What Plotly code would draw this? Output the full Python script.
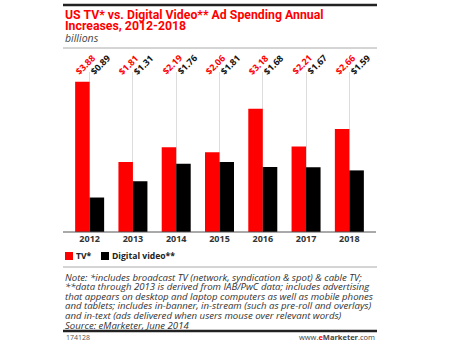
import plotly.graph_objects as go

# Annual increases in US ad spending, billions
years = ["2012", "2013", "2014", "2015", "2016", "2017", "2018"]
tv = [3.88, 1.81, 2.19, 2.06, 3.18, 2.21, 2.66]
digital = [0.89, 1.31, 1.76, 1.81, 1.68, 1.67, 1.59]

RED = "#ff0000"
BLACK = "#000000"
W, H = 450, 345


def px(x):
    return x / W


def py(y):
    return 1 - y / H


fig = go.Figure()
fig.add_trace(go.Bar(x=years, y=tv, name="TV*", marker=dict(color=RED, line=dict(width=0)),
                     showlegend=False, hoverinfo="skip"))
fig.add_trace(go.Bar(x=years, y=digital, name="Digital video**", marker=dict(color=BLACK, line=dict(width=0)),
                     showlegend=False, hoverinfo="skip"))

annotations = []
# Rotated value labels above each bar pair (x is the category index)
for i, (a, b) in enumerate(zip(tv, digital)):
    annotations.append(dict(x=i, xref="x", y=py(65), yref="paper", xshift=-4,
                            xanchor="center", yanchor="middle",
                            text=f"<b>${a:.2f}</b>", showarrow=False, textangle=-45,
                            font=dict(family="Open Sans", size=9, color=RED)))
    annotations.append(dict(x=i, xref="x", y=py(65), yref="paper", xshift=11,
                            xanchor="center", yanchor="middle",
                            text=f"<b>${b:.2f}</b>", showarrow=False, textangle=-45,
                            font=dict(family="Open Sans", size=9, color="#111111")))

# Title block
annotations += [
    dict(x=px(63), y=py(15), xref="paper", yref="paper", xanchor="left", yanchor="middle",
         text="<b>US TV* vs. Digital Video** Ad Spending Annual</b>", showarrow=False,
         font=dict(family="Roboto", size=12.3, color=RED)),
    dict(x=px(63), y=py(26.5), xref="paper", yref="paper", xanchor="left", yanchor="middle",
         text="<b>Increases, 2012-2018</b>", showarrow=False,
         font=dict(family="Roboto", size=12.3, color=RED)),
    dict(x=px(63), y=py(38.5), xref="paper", yref="paper", xanchor="left", yanchor="middle",
         text="<i>billions</i>", showarrow=False,
         font=dict(family="Open Sans", size=10.5, color="#444444")),
]

# Legend
annotations += [
    dict(x=px(74), y=py(256), xref="paper", yref="paper", xanchor="left", yanchor="middle",
         text="<b>TV*</b>", showarrow=False, font=dict(family="Open Sans", size=8.6, color="#222222")),
    dict(x=px(110), y=py(256), xref="paper", yref="paper", xanchor="left", yanchor="middle",
         text="<b>Digital video**</b>", showarrow=False, font=dict(family="Open Sans", size=8.6, color="#222222")),
]

note_lines = [
    "Note: *includes broadcast TV (network, syndication &amp; spot) &amp; cable TV;",
    "**data through 2013 is derived from IAB/PwC data; includes advertising",
    "that appears on desktop and laptop computers as well as mobile phones",
    "and tablets; includes in-banner, in-stream (such as pre-roll and overlays)",
    "and in-text (ads delivered when users mouse over relevant words)",
    "Source: eMarketer, June 2014",
]
for i, line in enumerate(note_lines):
    annotations.append(dict(x=px(64), y=py(277 + i * 9.6), xref="paper", yref="paper",
                            xanchor="left", yanchor="middle", text=f"<i>{line}</i>", showarrow=False,
                            borderpad=0,
                            font=dict(family="Open Sans", size=9.6, color="#333333")))

annotations += [
    dict(x=px(64), y=py(337), xref="paper", yref="paper", xanchor="left", yanchor="middle",
         text="174128", showarrow=False, font=dict(family="Open Sans", size=7, color="#555555")),
    dict(x=px(377), y=py(337), xref="paper", yref="paper", xanchor="right", yanchor="middle",
         text="www.<b><span style='color:#ff0000'>e</span>Marketer</b>.com", showarrow=False,
         font=dict(family="Open Sans", size=7.5, color="#444444")),
]

shapes = [
    # top rule
    dict(type="line", xref="paper", yref="paper", x0=px(63), x1=px(377), y0=py(5), y1=py(5),
         line=dict(color="#222222", width=2.5)),
    # rule under the subtitle
    dict(type="line", xref="paper", yref="paper", x0=px(63), x1=px(377), y0=py(48), y1=py(48),
         line=dict(color="#aaaaaa", width=1)),
    # baseline
    dict(type="line", xref="paper", yref="paper", x0=px(63), x1=px(376), y0=py(232), y1=py(232),
         line=dict(color="#555555", width=1)),
    # legend swatches
    dict(type="rect", xref="paper", yref="paper", x0=px(65), x1=px(73), y0=py(260), y1=py(252),
         fillcolor=RED, line=dict(width=0)),
    dict(type="rect", xref="paper", yref="paper", x0=px(101), x1=px(109), y0=py(260), y1=py(252),
         fillcolor=BLACK, line=dict(width=0)),
    # rule above the note
    dict(type="line", xref="paper", yref="paper", x0=px(63), x1=px(377), y0=py(267), y1=py(267),
         line=dict(color="#aaaaaa", width=1)),
    # bottom rule
    dict(type="line", xref="paper", yref="paper", x0=px(63), x1=px(377), y0=py(331), y1=py(331),
         line=dict(color="#222222", width=2.5)),
]

fig.update_layout(
    width=W, height=H,
    margin=dict(l=0, r=0, t=0, b=0),
    paper_bgcolor="white", plot_bgcolor="white",
    barmode="group", bargap=0.33, bargroupgap=0,
    showlegend=False,
    annotations=annotations,
    shapes=shapes,
    xaxis=dict(type="category", range=[-0.5, len(years) - 0.5], domain=[px(68), px(371)],
               showgrid=True, gridcolor="#dddddd", gridwidth=1,
               showline=False, ticks="", zeroline=False,
               tickfont=dict(family="Open Sans", size=9, color="#333333"),
               tickprefix="<b>", ticksuffix="</b>"),
    yaxis=dict(domain=[py(232), py(72)], range=[0, 4.13], showgrid=False, showticklabels=False,
               zeroline=False, showline=False, ticks=""),
)

fig.write_html("out.html")
